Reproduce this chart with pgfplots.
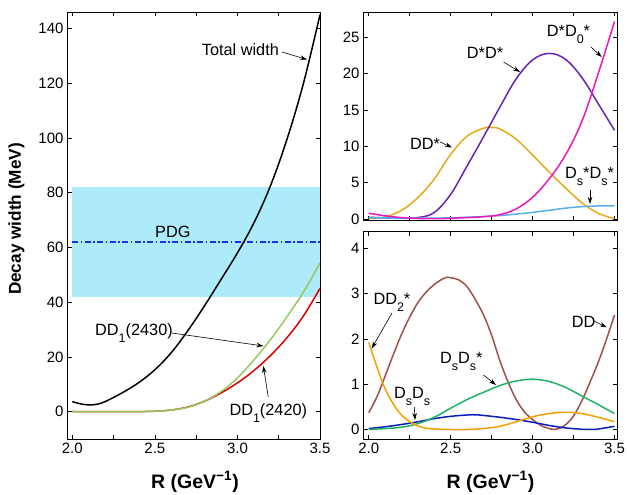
\documentclass[border=0pt]{standalone}
\usepackage{fontspec}
\setmainfont{Liberation Sans}
\usepackage{pgfplots}
\pgfplotsset{compat=1.18}
\usetikzlibrary{arrows.meta}

\definecolor{bandcyan}{RGB}{173,234,250}
\definecolor{pdgblue}{RGB}{25,45,235}
\definecolor{lgreen}{RGB}{150,200,95}
\definecolor{dred}{RGB}{220,0,0}
\definecolor{gold}{RGB}{230,170,25}
\definecolor{vpurple}{RGB}{105,35,180}
\definecolor{magenta2}{RGB}{235,25,185}
\definecolor{skyblue}{RGB}{90,175,230}
\definecolor{brown2}{RGB}{160,80,75}
\definecolor{green2}{RGB}{30,180,100}
\definecolor{blue2}{RGB}{10,30,190}
\definecolor{orange2}{RGB}{245,160,0}

\newcommand\lo[1]{\raisebox{-7pt}{\fontsize{12.5}{13}\selectfont #1}}

\pgfplotsset{
  panel/.style={
    scale only axis, anchor=south west,
    tick align=inside, tick pos=both,
    major tick length=4.5pt, minor tick length=4.5pt,
    axis line style={line width=0.8pt},
    tick style={black, line width=0.7pt},
    ticklabel style={font=\fontsize{15}{17}\selectfont},
    /pgf/number format/assume math mode=true,
    xtick={2,2.5,3,3.5}, minor xtick={2.25,2.75,3.25},
    xticklabel style={/pgf/number format/.cd, fixed, fixed zerofill, precision=1},
  },
  curve/.style={line width=1.5pt, smooth, tension=0.6, no markers, #1},
}

\begin{document}
\begin{tikzpicture}
\useasboundingbox (0pt,0pt) rectangle (627pt,-495pt);

% left panel: total and DD1 widths
\begin{axis}[panel, at={(67pt,-439pt)}, width=253pt, height=427pt,
  xmin=1.968, xmax=3.5, ymin=-10, ymax=146, ytick={0,20,...,140}]
  \addplot[sharp plot, no markers, draw=none, fill=bandcyan] coordinates {(2.0,42) (3.5,42) (3.5,82) (2.0,82)} -- cycle;
  \addplot[sharp plot, no markers, pdgblue, line width=1.2pt, dash pattern=on 6pt off 2.5pt on 1.5pt off 2.5pt] coordinates {(2.0,62) (3.5,62)};
  \addplot[curve=black] coordinates {(2.0,3.65) (2.05,2.85) (2.1,2.45) (2.15,2.7) (2.2,3.7) (2.3,6.8) (2.4,10.5) (2.5,15.3) (2.6,21.6) (2.7,29.6) (2.8,38.6) (2.9,48.2) (3.0,58.0) (3.1,69.0) (3.2,82.5) (3.3,99.5) (3.4,120) (3.5,145)};
  \addplot[curve=dred] coordinates {(2.0,0.05) (2.2,0.0) (2.4,0.02) (2.5,0.15) (2.6,0.6) (2.7,1.7) (2.8,3.8) (2.9,6.8) (3.0,10.5) (3.1,15) (3.2,20.5) (3.3,27) (3.4,35) (3.5,45)};
  \addplot[curve=lgreen] coordinates {(2.0,0.05) (2.2,0.0) (2.4,0.02) (2.5,0.15) (2.6,0.6) (2.7,1.6) (2.8,3.8) (2.9,7.3) (3.0,12.3) (3.1,18.9) (3.2,26.3) (3.3,34.7) (3.4,43.7) (3.5,54.3)};
\end{axis}

% top right panel
\begin{axis}[panel, at={(363pt,-220.5pt)}, width=254pt, height=208.5pt,
  xmin=1.965, xmax=3.515, ymin=-0.2, ymax=28.5, ytick={0,5,...,25}, xticklabels=\empty]
  \addplot[curve=gold] coordinates {(2.0,0.1) (2.1,0.3) (2.2,1.2) (2.3,2.95) (2.4,5.5) (2.5,8.9) (2.6,11.4) (2.7,12.5) (2.75,12.6) (2.8,12.4) (2.9,11.0) (3.0,8.8) (3.1,6.5) (3.2,4.3) (3.3,2.25) (3.4,0.8) (3.5,0.05)};
  \addplot[curve=vpurple] coordinates {(2.0,0.25) (2.1,0.15) (2.2,0.1) (2.3,0.2) (2.4,0.9) (2.5,3.4) (2.6,7.3) (2.7,11.3) (2.8,15.4) (2.9,19.3) (3.0,21.9) (3.1,22.8) (3.2,22.0) (3.3,19.5) (3.4,15.9) (3.5,12.2)};
  \addplot[curve=skyblue] coordinates {(2.0,0.2) (2.2,0.12) (2.4,0.12) (2.5,0.18) (2.6,0.25) (2.7,0.35) (2.8,0.48) (2.9,0.68) (3.0,0.92) (3.1,1.2) (3.2,1.5) (3.3,1.7) (3.4,1.8) (3.5,1.83)};
  \addplot[curve=magenta2] coordinates {(2.0,0.8) (2.1,0.45) (2.2,0.2) (2.3,0.08) (2.4,0.05) (2.5,0.1) (2.6,0.2) (2.7,0.32) (2.8,0.6) (2.9,1.4) (3.0,3.0) (3.1,5.5) (3.2,8.8) (3.3,13.4) (3.4,20.0) (3.5,27.2)};
\end{axis}

% bottom right panel
\begin{axis}[panel, at={(363pt,-439pt)}, width=254pt, height=208pt,
  xmin=1.965, xmax=3.515, ymin=-0.21, ymax=4.38, ytick={0,1,...,4}]
  \addplot[curve=brown2] coordinates {(2.0,0.37) (2.05,0.72) (2.1,1.18) (2.15,1.65) (2.2,2.1) (2.25,2.48) (2.3,2.8) (2.35,3.03) (2.4,3.2) (2.45,3.32) (2.48,3.36) (2.5,3.35) (2.55,3.3) (2.6,3.15) (2.65,2.87) (2.7,2.53) (2.75,2.08) (2.8,1.52) (2.85,1.05) (2.9,0.66) (2.95,0.39) (3.0,0.22) (3.05,0.09) (3.1,0.02) (3.13,0.0) (3.16,0.02) (3.2,0.1) (3.25,0.3) (3.3,0.63) (3.35,1.04) (3.4,1.48) (3.45,1.98) (3.5,2.53)};
  \addplot[curve=blue2] coordinates {(2.0,0.02) (2.1,0.06) (2.2,0.11) (2.3,0.17) (2.4,0.24) (2.5,0.29) (2.6,0.32) (2.65,0.325) (2.7,0.31) (2.8,0.27) (2.9,0.22) (3.0,0.16) (3.1,0.09) (3.2,0.035) (3.3,0.005) (3.35,0.0) (3.4,0.01) (3.5,0.07)};
  \addplot[curve=green2] coordinates {(2.0,0.0) (2.1,0.02) (2.2,0.05) (2.3,0.13) (2.4,0.27) (2.5,0.47) (2.6,0.66) (2.7,0.82) (2.8,0.97) (2.9,1.07) (3.0,1.11) (3.1,1.06) (3.2,0.93) (3.3,0.74) (3.4,0.55) (3.5,0.35)};
  \addplot[curve=orange2] coordinates {(2.0,1.92) (2.025,1.65) (2.05,1.38) (2.075,1.12) (2.1,0.9) (2.15,0.56) (2.2,0.32) (2.25,0.17) (2.3,0.08) (2.35,0.03) (2.4,0.01) (2.5,0.0) (2.6,0.0) (2.7,0.02) (2.8,0.07) (2.9,0.17) (3.0,0.28) (3.1,0.35) (3.2,0.38) (3.3,0.35) (3.4,0.27) (3.5,0.17)};
\end{axis}

% labels and annotations
\begin{scope}[x=1pt, y=-1pt, every node/.style={inner sep=0pt, font=\fontsize{16.3}{18}\selectfont},
  ann/.style={line width=0.6pt, -{Stealth[length=7pt,width=4.5pt]}}]
  \node[rotate=90, font=\bfseries\fontsize{17.2}{19}\selectfont] at (16.5,219) {Decay width (MeV)};
  \node[anchor=base, font=\bfseries\fontsize{19.5}{21}\selectfont] at (195,488) {R (GeV\textsuperscript{−1})};
  \node[anchor=base, font=\bfseries\fontsize{19.5}{21}\selectfont] at (490.5,488) {R (GeV\textsuperscript{−1})};

  \node[anchor=base west] at (201.7,56) {Total width};
  \draw[ann] (282,52) -- (307,59.5);
  \node[anchor=base west] at (155,237.3) {PDG};
  \node[anchor=base west] at (95,335) {DD\lo{1}(2430)};
  \draw[ann] (172,333) -- (263.5,346);
  \node[anchor=base west] at (229.3,415) {DD\lo{1}(2420)};
  \draw[ann] (268.3,397) -- (263.3,366);

  \node[anchor=base west] at (466.7,58.3) {D*D*};
  \draw[ann] (503.5,62) -- (520,72);
  \node[anchor=base west] at (546.7,36.7) {D*D\lo{0}*};
  \draw[ann] (591,47) -- (601.7,57);
  \node[anchor=base west] at (410,149) {DD*};
  \draw[ann] (440,142) -- (452,147.5);
  \node[anchor=base west] at (565,178.3) {D\lo{s}*D\lo{s}*};
  \draw[ann] (590,190) -- (590,204);

  \node[anchor=base west] at (373.3,304.3) {DD\lo{2}*};
  \draw[ann] (392,313) -- (371.7,348.5);
  \node[anchor=base west] at (571.7,327.7) {DD};
  \draw[ann] (594,321) -- (606.7,327.3);
  \node[anchor=base west] at (440,363.3) {D\lo{s}D\lo{s}*};
  \draw[ann] (483.5,375) -- (496,385);
  \node[anchor=base west] at (394,398.3) {D\lo{s}D\lo{s}};
  \draw[ann] (414.3,407) -- (415,420);
\end{scope}
\end{tikzpicture}
\end{document}
